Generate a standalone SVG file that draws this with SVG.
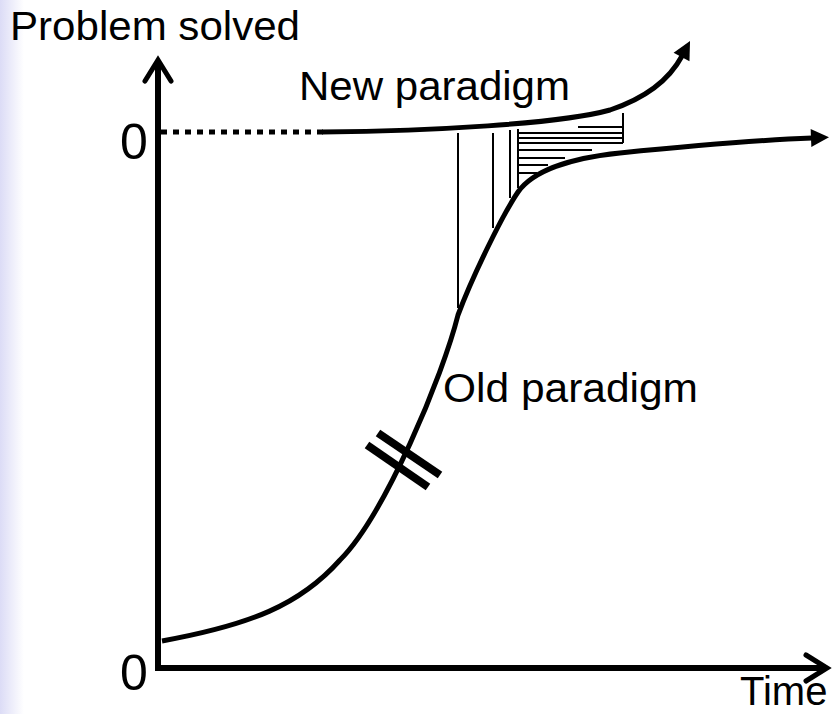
<svg xmlns="http://www.w3.org/2000/svg" width="835" height="714" viewBox="0 0 835 714">
  <defs>
    <linearGradient id="strip" x1="0" y1="0" x2="1" y2="0">
      <stop offset="0" stop-color="#dcdcf6"/>
      <stop offset="1" stop-color="#ffffff"/>
    </linearGradient>
    <marker id="chev" markerUnits="userSpaceOnUse" viewBox="-30 -20 40 40" refX="0" refY="0" markerWidth="40" markerHeight="40" orient="auto-start-reverse" overflow="visible">
      <path d="M-21,-13 L0,0 L-21,13" fill="none" stroke="#000" stroke-width="5" stroke-linecap="round" stroke-linejoin="miter"/>
    </marker>
    <marker id="tri" markerUnits="userSpaceOnUse" viewBox="0 -10 20 20" refX="1" refY="0" markerWidth="20" markerHeight="20" orient="auto" overflow="visible">
      <path d="M0,-9 L18,0 L0,9 z" fill="#000"/>
    </marker>
    <style>
      .lbl { font-family: "Liberation Sans", Arial, sans-serif; font-size: 40px; fill: #000; }
      .zero { font-family: "Liberation Sans", Arial, sans-serif; font-size: 50px; fill: #000; }
      .curve { fill: none; stroke: #000; stroke-width: 5; }
      .hatch { stroke: #000; stroke-width: 2; fill: none; }
      .bar { stroke: #000; stroke-width: 8; }
    </style>
  </defs>
  <rect x="0" y="0" width="835" height="714" fill="#fff"/>
  <rect x="0" y="0" width="24" height="714" fill="url(#strip)"/>

  <g id="axes">
    <path d="M158,60 L158,668 L827,668" fill="none" stroke="#000" stroke-width="6" stroke-linejoin="miter" marker-start="url(#chev)" marker-end="url(#chev)"/>
    <text class="lbl" x="10" y="40" textLength="290" lengthAdjust="spacingAndGlyphs">Problem solved</text>
    <text class="lbl" x="740" y="705">Time</text>
    <text class="zero" x="120" y="159">0</text>
    <text class="zero" x="120" y="690">0</text>
  </g>

  <g id="connectors">
    <line x1="161" y1="132" x2="323" y2="132" stroke="#000" stroke-width="5" stroke-dasharray="6,6"/>
  </g>

  <g id="new-paradigm">
    <path class="curve" d="M322,132 C430,131 560,124 610,110 C640,100 667,84 682,56" marker-end="url(#tri)"/>
    <text class="lbl" x="299" y="100" textLength="271" lengthAdjust="spacingAndGlyphs">New paradigm</text>
  </g>

  <g id="old-paradigm">
    <path class="curve" d="M162,641 C250,625 300,605 340,560 C385,515 443,375 458,315 C473,275 503,214 518,192 C533,171 570,158 620,153 C680,147 760,140 812,138" marker-end="url(#tri)"/>
    <text class="lbl" x="443" y="402" textLength="255" lengthAdjust="spacingAndGlyphs">Old paradigm</text>
    <line class="bar" x1="367" y1="445" x2="428" y2="487"/>
    <line class="bar" x1="378" y1="433" x2="440" y2="475"/>
  </g>

  <g id="hatching">
    <line class="hatch" x1="458" y1="133" x2="458" y2="308"/>
    <line class="hatch" x1="493" y1="133" x2="493" y2="228"/>
    <line class="hatch" x1="510" y1="130" x2="510" y2="198"/>
    <line class="hatch" x1="518" y1="129" x2="518" y2="188"/>
    <line class="hatch" x1="623" y1="113" x2="623" y2="143"/>
    <line class="hatch" x1="578" y1="127" x2="623" y2="127"/>
    <line class="hatch" x1="518" y1="133" x2="623" y2="133"/>
    <line class="hatch" x1="518" y1="138" x2="623" y2="138"/>
    <line class="hatch" x1="518" y1="143" x2="623" y2="143"/>
    <line class="hatch" x1="518" y1="150" x2="592" y2="150"/>
    <line class="hatch" x1="518" y1="158" x2="565" y2="158"/>
    <line class="hatch" x1="518" y1="165" x2="548" y2="165"/>
    <line class="hatch" x1="518" y1="173" x2="537" y2="173"/>
  </g>
</svg>
